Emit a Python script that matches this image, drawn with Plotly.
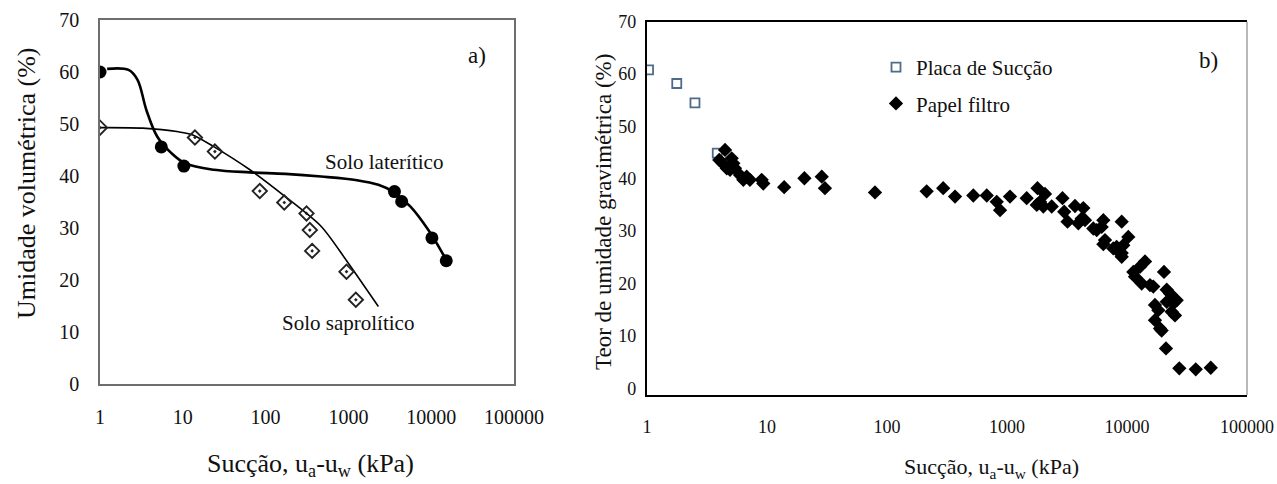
import plotly.graph_objects as go

W, H = 1277, 484

# ---------------- data: panel a) ----------------
lat_x = [1.0, 5.5, 10.3, 3600, 4400, 10200, 15200]
lat_y = [60, 45.6, 41.9, 37.0, 35.1, 28.1, 23.7]

sap_x = [1.0, 14.0, 24.4, 85, 168, 312, 342, 365, 949, 1230]
sap_y = [49.3, 47.4, 44.7, 37.1, 34.9, 32.8, 29.6, 25.6, 21.6, 16.2]

lat_curve_x = [1.22, 2.21, 2.84, 3.63, 4.9, 7.28, 10.8, 23.9, 64.6, 174, 470,
               1268, 2301, 3428, 5623, 9247, 13740, 15960]
lat_curve_y = [60.6, 60.4, 58.5, 52.7, 47.6, 44.4, 42.4, 41.2, 40.7, 40.4, 39.9,
               39.2, 38.3, 37.0, 34.1, 29.6, 25.1, 23.2]

sap_curve_x = [1.0, 3.29, 8.87, 13.2, 23.9, 64.6, 174, 470, 942, 2301]
sap_curve_y = [49.3, 49.2, 48.5, 47.9, 45.6, 41.2, 36.0, 30.3, 23.8, 14.9]

# ---------------- data: panel b) ----------------
placa_x = [1.03, 1.77, 2.51, 3.85]
placa_y = [60.8, 58.2, 54.5, 44.9]

papel_x = [4.47, 4.0, 4.27, 5.08, 5.24, 4.62, 4.92, 5.41, 5.96, 6.35,
           6.77, 7.21, 9.03, 9.31, 13.9, 20.5, 28.6, 30.4, 79.4, 214,
           294, 369, 524, 678, 821, 875, 1059, 1459, 1795, 2074,
           1770, 2008, 2358, 1884, 2900, 2998, 3194, 3687, 4325, 3930,
           4195, 4467, 5240, 5592, 6352, 6151, 6557, 6352, 9033, 10250,
           7686, 8464, 9033, 9317, 8200, 9033, 14130, 12830, 11290, 11660,
           13250, 15550, 16560, 20340, 21430, 22810, 25940, 21430, 24320, 17100,
           18240, 23550, 25120, 17100, 18840, 19450, 21130, 27290, 37410, 49890]
papel_y = [45.5, 43.6, 42.95, 43.9, 42.95, 42.0, 41.7, 42.0, 40.7, 39.8,
           40.4, 39.8, 39.8, 39.1, 38.4, 40.1, 40.4, 38.2, 37.4, 37.6,
           38.2, 36.6, 36.8, 36.8, 35.6, 34.0, 36.6, 36.3, 38.2, 37.1,
           35.0, 34.7, 34.7, 35.6, 36.3, 33.7, 31.8, 34.8, 34.4, 31.5,
           32.4, 32.1, 30.5, 30.2, 32.1, 30.8, 28.3, 27.5, 31.8, 28.9,
           26.7, 26.1, 25.8, 27.3, 27.0, 25.1, 24.2, 23.2, 22.2, 21.3,
           20.0, 19.7, 19.4, 22.2, 18.8, 18.1, 16.8, 16.5, 16.2, 15.9,
           14.9, 14.6, 13.9, 13.0, 11.4, 11.0, 7.6, 3.8, 3.6, 3.9]

x_tickvals = [1, 10, 100, 1000, 10000, 100000]
x_ticktext = ["1", "10", "100", "1000", "10000", "100000"]
y_tickvals = [0, 10, 20, 30, 40, 50, 60, 70]

FONT = "Liberation Serif"
INK = "#111111"


def px(x):
    return x / W


def py(y):
    return 1 - y / H


fig = go.Figure()

# panel a)
fig.add_trace(go.Scatter(x=lat_curve_x, y=lat_curve_y, mode="lines",
                         line=dict(color="black", width=2.6, shape="spline", smoothing=1.0),
                         xaxis="x", yaxis="y", showlegend=False, hoverinfo="skip"))
fig.add_trace(go.Scatter(x=sap_curve_x, y=sap_curve_y, mode="lines",
                         line=dict(color="black", width=1.6, shape="spline", smoothing=0.8),
                         xaxis="x", yaxis="y", showlegend=False, hoverinfo="skip"))
fig.add_trace(go.Scatter(x=lat_x, y=lat_y, mode="markers",
                         marker=dict(symbol="circle", size=13, color="black"),
                         xaxis="x", yaxis="y", showlegend=False))
fig.add_trace(go.Scatter(x=sap_x, y=sap_y, mode="markers",
                         marker=dict(symbol="diamond-open-dot", size=11, color="#222222",
                                     line=dict(width=1.9, color="#222222")),
                         xaxis="x", yaxis="y", showlegend=False))

# panel b)
fig.add_trace(go.Scatter(x=placa_x, y=placa_y, mode="markers", name="Placa de Sucção",
                         legendgroup="a",
                         marker=dict(symbol="square-open", size=9, color="#4f6b8a",
                                     line=dict(width=1.8, color="#4f6b8a")),
                         xaxis="x2", yaxis="y2"))
fig.add_trace(go.Scatter(x=papel_x, y=papel_y, mode="markers", name="Papel filtro",
                         legendgroup="b",
                         marker=dict(symbol="diamond", size=11, color="black"),
                         xaxis="x2", yaxis="y2"))


def tf(size):
    return dict(family=FONT, size=size, color=INK)


common = dict(showgrid=False, zeroline=False, ticks="", automargin=False)

fig.update_layout(
    width=W, height=H,
    margin=dict(l=0, r=0, t=0, b=0, pad=0, autoexpand=False),
    paper_bgcolor="white", plot_bgcolor="white",
    font=dict(family=FONT, color=INK),
    xaxis=dict(type="log", range=[0, 5], domain=[px(100), px(514)],
               tickvals=x_tickvals, ticktext=x_ticktext, anchor="y",
               showline=True, linecolor="#6e6e6e", linewidth=1.5, mirror=True,
               ticklabelstandoff=14, tickfont=tf(20), **common),
    yaxis=dict(range=[0, 70], domain=[py(384), py(20)], tickvals=y_tickvals,
               anchor="x", showline=True, linecolor="#6e6e6e", linewidth=1.5, mirror=True,
               ticklabelstandoff=15, tickfont=tf(20), **common),
    xaxis2=dict(type="log", range=[0, 5], domain=[px(647), px(1247)],
                tickvals=x_tickvals, ticktext=x_ticktext, anchor="y2",
                showline=True, linecolor="black", linewidth=2.2, mirror=True,
                ticklabelstandoff=14, tickfont=tf(18), **common),
    yaxis2=dict(range=[-1.3, 70], domain=[py(395), py(21.7)], tickvals=y_tickvals,
                anchor="x2", showline=True, linecolor="black", linewidth=2.2, mirror=False,
                ticklabelstandoff=5, tickfont=tf(18), **common),
    legend=dict(x=px(876), y=py(47), xanchor="left", yanchor="top",
                bgcolor="rgba(0,0,0,0)", font=tf(21),
                tracegroupgap=6, itemwidth=30),
    showlegend=True,
)

# right border of panel b (thin gray)
fig.add_shape(type="line", xref="x2 domain", yref="y2 domain", x0=1, x1=1, y0=0, y1=1,
              line=dict(color="#8a8a8a", width=1.2))

ann = [
    dict(text="Umidade volumétrica (%)", x=px(26), y=py(184), textangle=-90, size=26),
    dict(text="Sucção, u<sub>a</sub>-u<sub>w</sub> (kPa)", x=px(310), y=py(465), size=26),
    dict(text="Solo laterítico", x=px(384), y=py(162), size=21),
    dict(text="Solo saprolítico", x=px(348), y=py(323), size=21),
    dict(text="a)", x=px(477), y=py(55), size=23),
    dict(text="Teor de umidade gravimétrica (%)", x=px(603), y=py(212), textangle=-90, size=23),
    dict(text="Sucção, u<sub>a</sub>-u<sub>w</sub> (kPa)", x=px(991), y=py(468), size=22),
    dict(text="b)", x=px(1208), y=py(60), size=23),
]
for a in ann:
    fig.add_annotation(text=a["text"], x=a["x"], y=a["y"], xref="paper", yref="paper",
                       xanchor="center", yanchor="middle", showarrow=False,
                       textangle=a.get("textangle", 0),
                       font=tf(a["size"]))

fig.write_html("out.html",
               config={"displayModeBar": False},
               post_script="document.body.style.margin='0';document.body.style.overflow='hidden';")
